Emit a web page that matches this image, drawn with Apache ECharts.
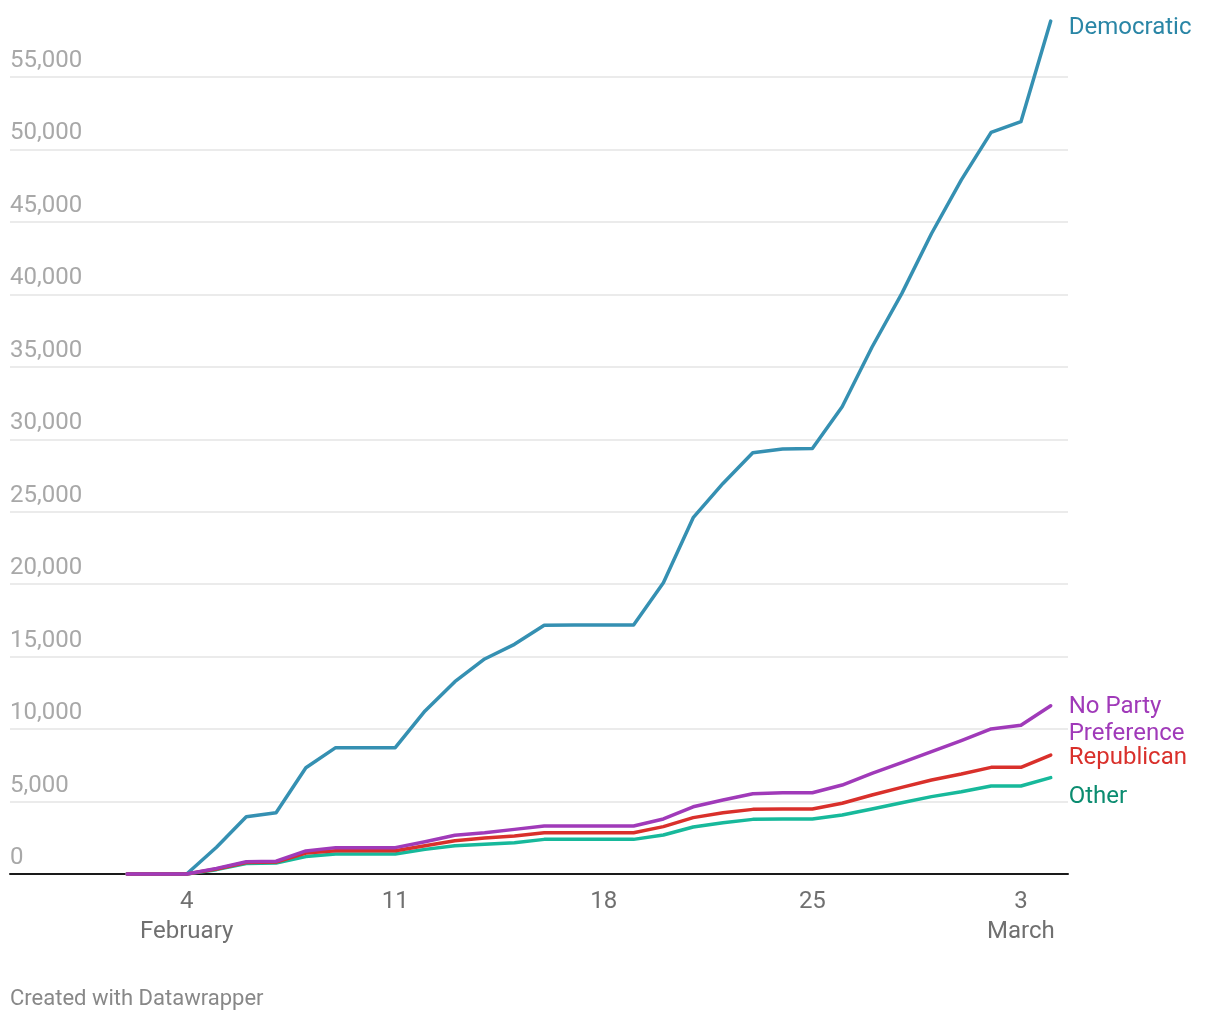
<!DOCTYPE html>
<html>
<head>
<meta charset="utf-8">
<script src="https://cdn.jsdelivr.net/npm/echarts@6/dist/echarts.min.js"></script>
<style>
  html, body { margin: 0; padding: 0; background: #fff; }
  #chart { width: 1220px; height: 1020px; }
</style>
</head>
<body>
<div id="chart"></div>
<script>
// Days: Feb 2, 2020 (index 0) to Mar 4, 2020 (index 31)
const dates = ['Feb 2','Feb 3','Feb 4','Feb 5','Feb 6','Feb 7','Feb 8','Feb 9','Feb 10','Feb 11','Feb 12','Feb 13','Feb 14','Feb 15','Feb 16','Feb 17','Feb 18','Feb 19','Feb 20','Feb 21','Feb 22','Feb 23','Feb 24','Feb 25','Feb 26','Feb 27','Feb 28','Feb 29','Mar 1','Mar 2','Mar 3','Mar 4'];

const democratic = [0,0,0,1850,3950,4230,7330,8720,8720,8720,11250,13270,14840,15850,17170,17180,17180,17180,20100,24590,26950,29070,29330,29370,32250,36350,40050,44200,47900,51180,51920,58860];
const noParty    = [0,0,0,390,850,880,1590,1820,1820,1820,2230,2670,2850,3080,3310,3310,3310,3310,3800,4640,5110,5540,5600,5610,6140,6950,7680,8440,9200,10010,10260,11610];
const republican = [0,0,0,350,790,820,1450,1610,1610,1610,1950,2300,2480,2620,2850,2850,2850,2850,3270,3890,4230,4460,4490,4490,4880,5450,5980,6490,6900,7360,7360,8210];
const other      = [0,0,0,300,720,760,1200,1380,1380,1380,1700,1950,2050,2160,2390,2390,2390,2390,2690,3240,3540,3770,3800,3800,4070,4490,4920,5340,5680,6070,6070,6650];

// x tick labels: day index -> label
const xTickIdx = [2, 9, 16, 23, 30];
const xTickLabels = ['4\nFebruary', '11', '18', '25', '3\nMarch'];

const FONT = 'Roboto, "Noto Sans", sans-serif';

function pts(arr) { return arr.map((v, i) => [i, v]); }

const chart = echarts.init(document.getElementById('chart'), null, { renderer: 'canvas' });

function series(name, data, lineColor, labelColor, offset, z) {
  return {
    name: name,
    type: 'line',
    data: pts(data),
    symbol: 'none',
    clip: false,
    z: z,
    lineStyle: { color: lineColor, width: 3.5, cap: 'round', join: 'round' },
    itemStyle: { color: lineColor },
    emphasis: { disabled: true },
    endLabel: {
      show: true,
      formatter: () => name,
      color: labelColor,
      fontFamily: FONT,
      fontSize: 24,
      lineHeight: 27,
      distance: 18,
      offset: offset,
      align: 'left'
    }
  };
}

chart.setOption({
  animation: false,
  backgroundColor: '#ffffff',
  grid: { left: 10, right: 152, top: 77, bottom: 146, containLabel: false },
  xAxis: {
    type: 'value',
    min: -3.93,
    max: 31.58,
    axisLine: { show: true, onZero: false, lineStyle: { color: '#1a1a1a', width: 2 } },
    axisTick: { show: false },
    splitLine: { show: false },
    axisLabel: {
      customValues: xTickIdx,
      formatter: (v) => { const k = xTickIdx.indexOf(Math.round(v)); return k >= 0 ? xTickLabels[k] : ''; },
      color: '#707070',
      fontFamily: FONT,
      fontSize: 24,
      lineHeight: 30,
      margin: 13,
      verticalAlign: 'top'
    }
  },
  yAxis: {
    type: 'value',
    min: 0,
    max: 55000,
    interval: 5000,
    axisLine: { show: false },
    axisTick: { show: false },
    splitLine: { show: true, lineStyle: { color: '#e4e4e4', width: 1.5 } },
    axisLabel: {
      inside: true,
      margin: 0,
      color: '#a8a8a8',
      fontFamily: FONT,
      fontSize: 24,
      verticalAlign: 'bottom',
      padding: [0, 0, 4, 0],
      formatter: (v) => v.toLocaleString('en-US')
    }
  },
  graphic: [{
    type: 'text',
    left: 10,
    top: 988,
    style: { text: 'Created with Datawrapper', fill: '#888888', font: '22px ' + FONT }
  }],
  series: [
    series('Democratic', democratic, '#3590b2', '#2a86a6', [0, 7], 2),
    series('Other', other, '#17b99b', '#0b8c70', [0, 19], 3),
    series('Republican', republican, '#d9302b', '#d9302b', [0, 3], 4),
    series('No Party\nPreference', noParty, '#a03ab9', '#a03ab9', [0, 15], 5)
  ]
});
</script>
</body>
</html>
